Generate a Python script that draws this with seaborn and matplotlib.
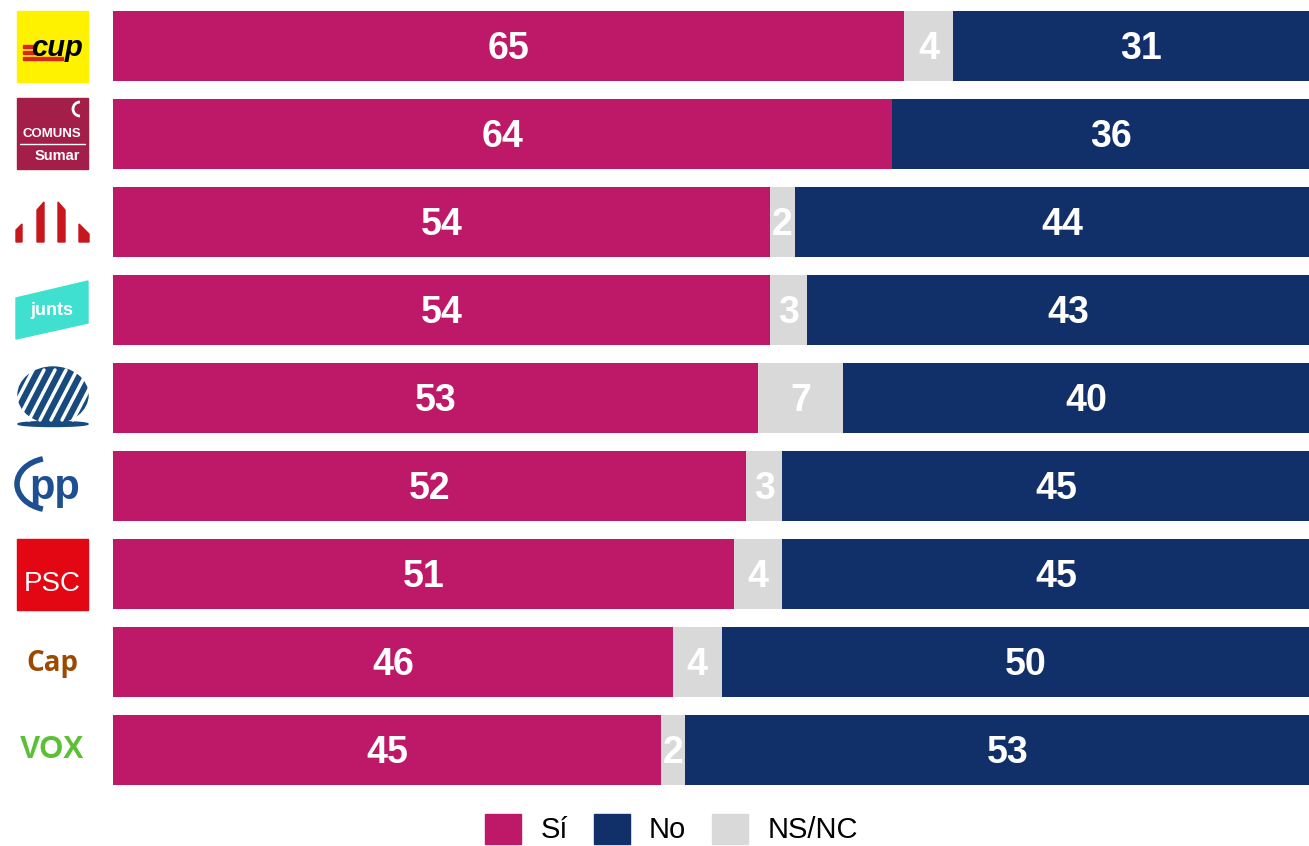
import matplotlib
matplotlib.use("Agg")
import matplotlib.pyplot as plt
import matplotlib.patches as mpatches
import seaborn as sns
import pandas as pd
import numpy as np

parties = ["CUP", "Comuns Sumar", "ERC", "Junts", "Arbre", "PP", "PSC", "Cap", "VOX"]
si = [65, 64, 54, 54, 53, 52, 51, 46, 45]
nsnc = [4, 0, 2, 3, 7, 3, 4, 4, 2]
no = [31, 36, 44, 43, 40, 45, 45, 50, 53]
legend_labels = ["Sí", "No", "NS/NC"]

C_SI = "#BE1869"
C_NO = "#11306A"
C_NS = "#D9D9D9"

df = pd.DataFrame({"party": parties, "si": si, "ns": nsnc, "no": no})
df["si_ns"] = df["si"] + df["ns"]
df["total"] = df["si_ns"] + df["no"]

sns.set_style("white")
plt.rcParams["font.family"] = ["Liberation Sans", "DejaVu Sans"]

W, H = 1309, 846
fig = plt.figure(figsize=(W / 100, H / 100), dpi=100)
ax_bottom = (H - 794) / H
ax_height = 792 / H
ax = fig.add_axes([113 / W, ax_bottom, 1 - 113 / W, ax_height])

sns.barplot(data=df, y="party", x="total", color=C_NO, orient="h", width=0.8,
            ax=ax, saturation=1, errorbar=None)
sns.barplot(data=df, y="party", x="si_ns", color=C_NS, orient="h", width=0.8,
            ax=ax, saturation=1, errorbar=None)
sns.barplot(data=df, y="party", x="si", color=C_SI, orient="h", width=0.8,
            ax=ax, saturation=1, errorbar=None)
for p in ax.patches:
    p.set_linewidth(0)

ax.set_xlim(0, (W - 113) / 12.17)
ax.set_ylim(len(parties) - 0.5, -0.5)
ax.set_xlabel("")
ax.set_ylabel("")
ax.set_xticks([])
ax.set_yticks([])
for s in ax.spines.values():
    s.set_visible(False)

lab_kw = dict(color="white", fontsize=27, fontweight="bold", ha="center", va="center")
dy = 0.035
for i, row in df.iterrows():
    ax.text(row["si"] / 2, i + dy, f"{row['si']}", **lab_kw)
    if row["ns"] > 0:
        ax.text(row["si"] + row["ns"] / 2, i + dy, f"{row['ns']}", **lab_kw)
    ax.text(row["si_ns"] + row["no"] / 2, i + dy, f"{row['no']}", **lab_kw)

# logo column (pixel coordinates)
lx = fig.add_axes([0, ax_bottom, 113 / W, ax_height])
lx.set_xlim(0, 113)
lx.set_ylim(794, 2)
lx.axis("off")

def cy(i):
    return 46 + 88 * i

# CUP
y = cy(0)
lx.add_patch(mpatches.Rectangle((17, y - 35), 71, 71, color="#FFF200"))
lx.text(57, y + 2, "cup", fontsize=21, fontweight="bold", style="italic",
        ha="center", va="center", color="black")
lx.add_patch(mpatches.Rectangle((23, y - 1), 12, 3, color="#D7261E"))
lx.add_patch(mpatches.Rectangle((23, y + 5), 12, 3, color="#D7261E"))
lx.add_patch(mpatches.Rectangle((23, y + 11), 40, 3, color="#D7261E"))
# Comuns Sumar
y = cy(1)
lx.add_patch(mpatches.Rectangle((17, y - 36), 71, 71, color="#A31F4A"))
lx.text(52, y, "COMUNS", fontsize=9.5, fontweight="bold", ha="center", va="center", color="white")
lx.plot([20, 85], [y + 10, y + 10], color="white", lw=1)
lx.text(57, y + 22, "Sumar", fontsize=10.5, fontweight="bold", ha="center", va="center", color="white")
lx.add_patch(mpatches.Arc((80, y - 25), 14, 14, theta1=90, theta2=270, color="white", lw=2))
# ERC
y = cy(2)
red = "#C8161D"
lx.add_patch(mpatches.Polygon([(16, y + 20), (16, y + 8), (22, y + 2), (22, y + 20)], color=red))
lx.add_patch(mpatches.Polygon([(37, y + 20), (37, y - 12), (44, y - 20), (44, y + 20)], color=red))
lx.add_patch(mpatches.Polygon([(58, y + 20), (58, y - 20), (65, y - 12), (65, y + 20)], color=red))
lx.add_patch(mpatches.Polygon([(79, y + 20), (79, y + 2), (89, y + 12), (89, y + 20)], color=red))
# Junts
y = cy(3)
lx.add_patch(mpatches.Polygon([(16, y - 12), (88, y - 29), (88, y + 13), (16, y + 29)], color="#3FE0CF"))
lx.text(52, y + 1, "junts", fontsize=13, fontweight="bold", ha="center", va="center", color="white")
# tree
y = cy(4)
lx.add_patch(mpatches.Ellipse((53, y - 3), 70, 56, color="#174A7E"))
for k in range(-3, 4):
    lx.plot([40 + 11 * k, 66 + 11 * k], [y + 22, y - 28], color="white", lw=2.5)
lx.add_patch(mpatches.Rectangle((10, y + 25), 90, 20, color="white"))
lx.add_patch(mpatches.Ellipse((53, y + 26), 70, 5, color="#174A7E"))
# PP
y = cy(5)
lx.add_patch(mpatches.Arc((52, y - 2), 70, 52, theta1=110, theta2=250, color="#1D4F91", lw=4))
lx.text(55, y + 2, "pp", fontsize=30, fontweight="bold", ha="center", va="center", color="#1D4F91")
# PSC
y = cy(6)
lx.add_patch(mpatches.Rectangle((17, y - 35), 71, 71, color="#E30613"))
lx.text(52, y + 10, "PSC", fontsize=20, ha="center", va="center", color="white")
# Cap
y = cy(7)
lx.text(52, y + 2, "Cap", fontsize=20, fontweight="bold", ha="center", va="center", color="#9C4A00",
        family=["Open Sans", "DejaVu Sans"])
# VOX
y = cy(8)
lx.text(52, y, "VOX", fontsize=22, fontweight="bold", ha="center", va="center", color="#5BC035")

handles = [mpatches.Patch(color=C_SI), mpatches.Patch(color=C_NO), mpatches.Patch(color=C_NS)]
leg = fig.legend(handles, legend_labels, loc="center", bbox_to_anchor=(0.513, 0.02), ncol=3,
                 frameon=False, fontsize=21, handlelength=1.23, handleheight=1.2, columnspacing=0.9,
                 handletextpad=0.65)
for t in leg.get_texts():
    t.set_color("black")

fig.savefig("out.png", dpi=100)
